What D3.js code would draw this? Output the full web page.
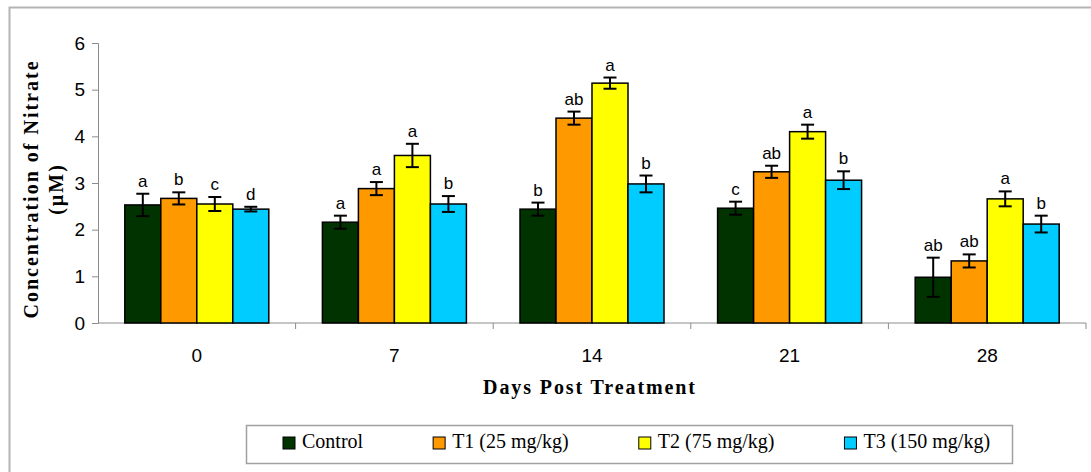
<!DOCTYPE html>
<html>
<head>
<meta charset="utf-8">
<script src="https://cdn.jsdelivr.net/npm/d3@7"></script>
<style>
	html, body { margin: 0; padding: 0; background: #fff; }
	#chart { width: 1091px; height: 472px; }
	svg { display: block; }
</style>
</head>
<body>
<div id="chart"></div>
<script>
(function (d3) {
	'use strict';

	// DATA
	const days = ["0", "7", "14", "21", "28"];
	const seriesNames = ["Control", "T1 (25 mg/kg)", "T2 (75 mg/kg)", "T3 (150 mg/kg)"];
	const seriesColors = ["#003300", "#ff9900", "#ffff00", "#00ccff"];

	const control = [2.53, 2.16, 2.44, 2.46, 0.98];
	const controlErr = [0.24, 0.14, 0.14, 0.14, 0.42];
	const controlLetters = ["a", "a", "b", "c", "ab"];

	const t1 = [2.67, 2.88, 4.39, 3.24, 1.33];
	const t1Err = [0.13, 0.14, 0.14, 0.13, 0.14];
	const t1Letters = ["b", "a", "ab", "ab", "ab"];

	const t2 = [2.55, 3.59, 5.14, 4.10, 2.66];
	const t2Err = [0.15, 0.25, 0.12, 0.15, 0.16];
	const t2Letters = ["c", "a", "a", "a", "a"];

	const t3 = [2.44, 2.55, 2.98, 3.06, 2.12];
	const t3Err = [0.05, 0.17, 0.18, 0.19, 0.18];
	const t3Letters = ["d", "b", "b", "b", "b"];

	const yTicks = [0, 1, 2, 3, 4, 5, 6];

	const values = [control, t1, t2, t3];
	const errors = [controlErr, t1Err, t2Err, t3Err];
	const letters = [controlLetters, t1Letters, t2Letters, t3Letters];

	// flatten into one row per bar
	const data = [];
	days.forEach((day, i) => {
		seriesNames.forEach((s, j) => {
			data.push({
				day: day,
				series: s,
				value: values[j][i],
				err: errors[j][i],
				letter: letters[j][i],
				color: seriesColors[j]
			});
		});
	});

	const width = 1091;
	const height = 472;
	const plot = { left: 98, right: 1086, top: 43, bottom: 323 };

	const svg = d3.select("#chart").append("svg")
		.attr("width", width)
		.attr("height", height);

	// outer frame (cut off on the right and bottom, like the source)
	svg.append("rect")
		.attr("x", 9.5).attr("y", 7.5)
		.attr("width", 1100).attr("height", 480)
		.attr("fill", "none")
		.attr("stroke", "#b4b4b4")
		.attr("stroke-width", 2);

	// SCALES
	const xScale = d3.scaleBand()
		.domain(days)
		.range([plot.left, plot.right]);

	const groupWidth = 144;
	const x1 = d3.scaleBand()
		.domain(seriesNames)
		.range([(xScale.step() - groupWidth) / 2, (xScale.step() + groupWidth) / 2]);

	const yScale = d3.scaleLinear()
		.domain([0, 6])
		.range([plot.bottom, plot.top]);

	// Y axis
	const yAxisG = svg.append("g")
		.attr("transform", `translate(${plot.left},0)`)
		.call(d3.axisLeft(yScale).tickValues(yTicks).tickSize(6).tickPadding(7).tickFormat(d3.format("d")));
	yAxisG.selectAll("line, path").attr("stroke", "#8c8c8c");
	yAxisG.selectAll("text")
		.attr("font-family", "Arial, 'Liberation Sans', sans-serif")
		.attr("font-size", 19)
		.attr("fill", "#000");

	// X axis: ticks at category boundaries, labels at centres
	const xAxisG = svg.append("g")
		.attr("transform", `translate(0,${plot.bottom})`);
	xAxisG.append("line")
		.attr("x1", plot.left).attr("x2", plot.right)
		.attr("stroke", "#8c8c8c");
	xAxisG.selectAll(".bound")
		.data(days.slice(1).concat(["end"]))
		.enter().append("line")
		.attr("class", "bound")
		.attr("x1", (d, i) => xScale(days[i]) + xScale.step())
		.attr("x2", (d, i) => xScale(days[i]) + xScale.step())
		.attr("y1", 0).attr("y2", 6)
		.attr("stroke", "#8c8c8c");
	xAxisG.selectAll(".lbl")
		.data(days)
		.enter().append("text")
		.attr("class", "lbl")
		.attr("x", d => xScale(d) + xScale.step() / 2)
		.attr("y", 39)
		.attr("text-anchor", "middle")
		.attr("font-family", "Arial, 'Liberation Sans', sans-serif")
		.attr("font-size", 19)
		.text(d => d);

	// BARS
	const g = svg.append("g");
	g.selectAll("rect.bar")
		.data(data)
		.enter().append("rect")
		.attr("class", "bar")
		.attr("x", d => xScale(d.day) + x1(d.series))
		.attr("y", d => yScale(d.value))
		.attr("width", x1.bandwidth())
		.attr("height", d => yScale(0) - yScale(d.value))
		.attr("fill", d => d.color)
		.attr("stroke", "#000")
		.attr("stroke-width", 1.5);

	// error bars
	const cx = d => xScale(d.day) + x1(d.series) + x1.bandwidth() / 2;
	const errG = g.selectAll("g.err")
		.data(data)
		.enter().append("g")
		.attr("class", "err")
		.attr("stroke", "#000")
		.attr("stroke-width", 2);
	errG.append("line")
		.attr("x1", cx).attr("x2", cx)
		.attr("y1", d => yScale(d.value + d.err))
		.attr("y2", d => yScale(d.value - d.err));
	errG.append("line")
		.attr("x1", d => cx(d) - 6.5).attr("x2", d => cx(d) + 6.5)
		.attr("y1", d => yScale(d.value + d.err))
		.attr("y2", d => yScale(d.value + d.err));
	errG.append("line")
		.attr("x1", d => cx(d) - 6.5).attr("x2", d => cx(d) + 6.5)
		.attr("y1", d => yScale(d.value - d.err))
		.attr("y2", d => yScale(d.value - d.err));

	// significance letters
	g.selectAll("text.sig")
		.data(data)
		.enter().append("text")
		.attr("class", "sig")
		.attr("x", cx)
		.attr("y", d => yScale(d.value + d.err) - 7)
		.attr("text-anchor", "middle")
		.attr("font-family", "Arial, 'Liberation Sans', sans-serif")
		.attr("font-size", 17)
		.text(d => d.letter);

	// AXIS TITLES
	svg.append("text")
		.attr("x", 590)
		.attr("y", 394)
		.attr("text-anchor", "middle")
		.attr("font-family", "'Liberation Serif', 'Times New Roman', serif")
		.attr("font-weight", "bold")
		.attr("font-size", 20)
		.attr("letter-spacing", 1.9)
		.text("Days Post Treatment");

	const yTitle = svg.append("text")
		.attr("transform", "translate(0,189) rotate(-90)")
		.attr("text-anchor", "middle")
		.attr("font-family", "'Liberation Serif', 'Times New Roman', serif")
		.attr("font-weight", "bold")
		.attr("font-size", 20)
		.attr("letter-spacing", 2);
	yTitle.append("tspan").attr("x", 0).attr("y", 38).text("Concentration of Nitrate");
	yTitle.append("tspan").attr("x", 0).attr("y", 63).text("(µM)");

	// LEGEND
	const legend = svg.append("g");
	legend.append("rect")
		.attr("x", 246.5).attr("y", 425.5)
		.attr("width", 766).attr("height", 38)
		.attr("fill", "#fff")
		.attr("stroke", "#a0a0a0")
		.attr("stroke-width", 1.5);

	let lx = 283;
	seriesNames.forEach((s, j) => {
		const item = legend.append("g").attr("transform", `translate(${lx},437)`);
		item.append("rect")
			.attr("width", 12).attr("height", 12)
			.attr("fill", seriesColors[j])
			.attr("stroke", "#000")
			.attr("stroke-width", 1);
		const t = item.append("text")
			.attr("x", 19).attr("y", 11)
			.attr("font-family", "'Liberation Serif', 'Times New Roman', serif")
			.attr("font-size", 20)
			.text(s);
		lx += 19 + t.node().getComputedTextLength() + 70;
	});
}(d3));
</script>
</body>
</html>
